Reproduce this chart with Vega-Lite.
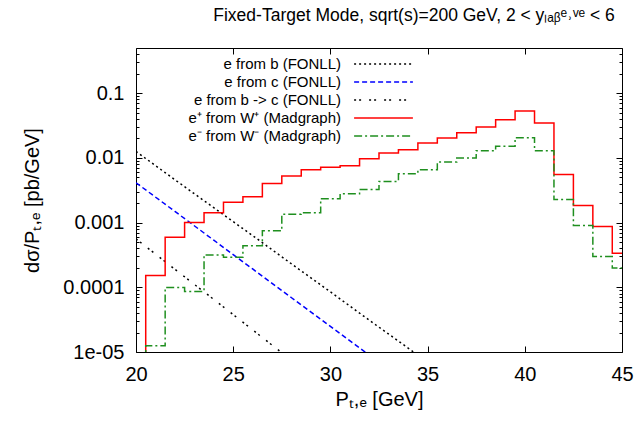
{
  "$schema": "https://vega.github.io/schema/vega-lite/v6.json",
  "width": 486,
  "height": 304,
  "padding": {"left": 22, "top": 7, "right": 5, "bottom": 5},
  "title": {"text": "Fixed-Target Mode, sqrt(s)=200 GeV, 2 < yₗₐᵦᵉ˒ᵛᵉ < 6", "font": "Liberation Sans", "fontSize": 17.5, "fontWeight": "normal", "color": "#000", "anchor": "middle", "dx": 35, "offset": 23},
  "datasets": {
    "fonll": [
      {"s": "e from b (FONLL)", "x": 20, "y": 0.0126},
      {"s": "e from b (FONLL)", "x": 22, "y": 0.0046},
      {"s": "e from b (FONLL)", "x": 24, "y": 0.0017},
      {"s": "e from b (FONLL)", "x": 26, "y": 0.00063},
      {"s": "e from b (FONLL)", "x": 28, "y": 0.00023},
      {"s": "e from b (FONLL)", "x": 30, "y": 0.000085},
      {"s": "e from b (FONLL)", "x": 32, "y": 0.000031},
      {"s": "e from b (FONLL)", "x": 34, "y": 0.0000115},
      {"s": "e from b (FONLL)", "x": 36, "y": 0.0000042},
      {"s": "e from c (FONLL)", "x": 20, "y": 0.00413},
      {"s": "e from c (FONLL)", "x": 22, "y": 0.00149},
      {"s": "e from c (FONLL)", "x": 24, "y": 0.000535},
      {"s": "e from c (FONLL)", "x": 26, "y": 0.000192},
      {"s": "e from c (FONLL)", "x": 28, "y": 0.000069},
      {"s": "e from c (FONLL)", "x": 30, "y": 0.0000249},
      {"s": "e from c (FONLL)", "x": 32, "y": 0.00000895},
      {"s": "e from b -> c (FONLL)", "x": 20, "y": 0.00056},
      {"s": "e from b -> c (FONLL)", "x": 22, "y": 0.00019},
      {"s": "e from b -> c (FONLL)", "x": 24, "y": 0.000065},
      {"s": "e from b -> c (FONLL)", "x": 26, "y": 0.000022},
      {"s": "e from b -> c (FONLL)", "x": 28, "y": 0.0000074}
    ],
    "hist": [
      {"s": "e⁺ from W⁺ (Madgraph)", "x": 20, "y": 0.0000001},
      {"s": "e⁺ from W⁺ (Madgraph)", "x": 21, "y": 0.000152},
      {"s": "e⁺ from W⁺ (Madgraph)", "x": 22, "y": 0.000596},
      {"s": "e⁺ from W⁺ (Madgraph)", "x": 23, "y": 0.001},
      {"s": "e⁺ from W⁺ (Madgraph)", "x": 24, "y": 0.00142},
      {"s": "e⁺ from W⁺ (Madgraph)", "x": 25, "y": 0.00207},
      {"s": "e⁺ from W⁺ (Madgraph)", "x": 26, "y": 0.0025},
      {"s": "e⁺ from W⁺ (Madgraph)", "x": 27, "y": 0.00403},
      {"s": "e⁺ from W⁺ (Madgraph)", "x": 28, "y": 0.00525},
      {"s": "e⁺ from W⁺ (Madgraph)", "x": 29, "y": 0.00657},
      {"s": "e⁺ from W⁺ (Madgraph)", "x": 30, "y": 0.0072},
      {"s": "e⁺ from W⁺ (Madgraph)", "x": 31, "y": 0.00757},
      {"s": "e⁺ from W⁺ (Madgraph)", "x": 32, "y": 0.0097},
      {"s": "e⁺ from W⁺ (Madgraph)", "x": 33, "y": 0.0119},
      {"s": "e⁺ from W⁺ (Madgraph)", "x": 34, "y": 0.0134},
      {"s": "e⁺ from W⁺ (Madgraph)", "x": 35, "y": 0.017},
      {"s": "e⁺ from W⁺ (Madgraph)", "x": 36, "y": 0.0203},
      {"s": "e⁺ from W⁺ (Madgraph)", "x": 37, "y": 0.0245},
      {"s": "e⁺ from W⁺ (Madgraph)", "x": 38, "y": 0.03},
      {"s": "e⁺ from W⁺ (Madgraph)", "x": 39, "y": 0.039},
      {"s": "e⁺ from W⁺ (Madgraph)", "x": 40, "y": 0.053},
      {"s": "e⁺ from W⁺ (Madgraph)", "x": 41, "y": 0.0347},
      {"s": "e⁺ from W⁺ (Madgraph)", "x": 42, "y": 0.00556},
      {"s": "e⁺ from W⁺ (Madgraph)", "x": 43, "y": 0.00184},
      {"s": "e⁺ from W⁺ (Madgraph)", "x": 44, "y": 0.00087},
      {"s": "e⁺ from W⁺ (Madgraph)", "x": 45, "y": 0.000337},
      {"s": "e⁻ from W⁻ (Madgraph)", "x": 20, "y": 0.0000001},
      {"s": "e⁻ from W⁻ (Madgraph)", "x": 21, "y": 0.0000125},
      {"s": "e⁻ from W⁻ (Madgraph)", "x": 22, "y": 0.000099},
      {"s": "e⁻ from W⁻ (Madgraph)", "x": 23, "y": 0.000086},
      {"s": "e⁻ from W⁻ (Madgraph)", "x": 24, "y": 0.000317},
      {"s": "e⁻ from W⁻ (Madgraph)", "x": 25, "y": 0.000292},
      {"s": "e⁻ from W⁻ (Madgraph)", "x": 26, "y": 0.000437},
      {"s": "e⁻ from W⁻ (Madgraph)", "x": 27, "y": 0.000746},
      {"s": "e⁻ from W⁻ (Madgraph)", "x": 28, "y": 0.00135},
      {"s": "e⁻ from W⁻ (Madgraph)", "x": 29, "y": 0.00142},
      {"s": "e⁻ from W⁻ (Madgraph)", "x": 30, "y": 0.00234},
      {"s": "e⁻ from W⁻ (Madgraph)", "x": 31, "y": 0.00279},
      {"s": "e⁻ from W⁻ (Madgraph)", "x": 32, "y": 0.00325},
      {"s": "e⁻ from W⁻ (Madgraph)", "x": 33, "y": 0.00433},
      {"s": "e⁻ from W⁻ (Madgraph)", "x": 34, "y": 0.00569},
      {"s": "e⁻ from W⁻ (Madgraph)", "x": 35, "y": 0.00656},
      {"s": "e⁻ from W⁻ (Madgraph)", "x": 36, "y": 0.00865},
      {"s": "e⁻ from W⁻ (Madgraph)", "x": 37, "y": 0.01},
      {"s": "e⁻ from W⁻ (Madgraph)", "x": 38, "y": 0.0129},
      {"s": "e⁻ from W⁻ (Madgraph)", "x": 39, "y": 0.0151},
      {"s": "e⁻ from W⁻ (Madgraph)", "x": 40, "y": 0.0205},
      {"s": "e⁻ from W⁻ (Madgraph)", "x": 41, "y": 0.0129},
      {"s": "e⁻ from W⁻ (Madgraph)", "x": 42, "y": 0.00228},
      {"s": "e⁻ from W⁻ (Madgraph)", "x": 43, "y": 0.0009},
      {"s": "e⁻ from W⁻ (Madgraph)", "x": 44, "y": 0.000299},
      {"s": "e⁻ from W⁻ (Madgraph)", "x": 45, "y": 0.000198}
    ]
  },
  "layer": [
    {
      "data": {"name": "fonll"},
      "mark": {"type": "line", "clip": true},
      "encoding": {
        "x": {"field": "x", "type": "quantitative", "scale": {"domain": [20, 45], "nice": false, "zero": false},
              "axis": {"orient": "top", "labels": false, "title": null, "values": [20, 25, 30, 35, 40, 45], "tickSize": -6}},
        "y": {"field": "y", "type": "quantitative", "scale": {"type": "log", "domain": [0.00001, 0.5], "nice": false},
              "axis": {"orient": "right", "labels": false, "title": null, "values": [0.00001, 0.0001, 0.001, 0.01, 0.1], "tickSize": -6}},
        "color": {"field": "s", "type": "nominal", "legend": {"title": null},
                  "scale": {"domain": ["e from b (FONLL)", "e from c (FONLL)", "e from b -> c (FONLL)", "e⁺ from W⁺ (Madgraph)", "e⁻ from W⁻ (Madgraph)"],
                            "range": ["#000000", "#0000ff", "#000000", "#ff0000", "#1f8f1f"]}},
        "strokeDash": {"field": "s", "type": "nominal", "legend": {"title": null},
                  "scale": {"domain": ["e from b (FONLL)", "e from c (FONLL)", "e from b -> c (FONLL)", "e⁺ from W⁺ (Madgraph)", "e⁻ from W⁻ (Madgraph)"],
                            "range": [[2, 3], [5, 3], [2, 3, 2, 8], [1, 0], [8, 3, 2, 3]]}},
        "strokeWidth": {"field": "s", "type": "nominal", "legend": {"title": null},
                  "scale": {"domain": ["e from b (FONLL)", "e from c (FONLL)", "e from b -> c (FONLL)", "e⁺ from W⁺ (Madgraph)", "e⁻ from W⁻ (Madgraph)"],
                            "range": [1.5, 1.5, 1.2, 2, 1.5]}}
      }
    },
    {
      "data": {"name": "hist"},
      "mark": {"type": "line", "clip": true, "interpolate": "step"},
      "encoding": {
        "x": {"field": "x", "type": "quantitative", "title": "Pₜ,ₑ [GeV]",
              "axis": {"orient": "bottom", "values": [20, 25, 30, 35, 40, 45], "tickSize": -6, "labelPadding": 18, "titlePadding": 5}},
        "y": {"field": "y", "type": "quantitative", "title": "dσ/Pₜ,ₑ [pb/GeV]",
              "axis": {"orient": "left", "values": [0.00001, 0.0001, 0.001, 0.01, 0.1], "tickSize": -6, "labelPadding": 18, "titlePadding": 20,
                       "labelExpr": "datum.value < 0.00005 ? '1e-05' : format(datum.value, '~g')"}},
        "color": {"field": "s", "type": "nominal", "legend": {"title": null}},
        "strokeDash": {"field": "s", "type": "nominal", "legend": {"title": null}},
        "strokeWidth": {"field": "s", "type": "nominal", "legend": {"title": null}}
      }
    },
    {
      "data": {"name": "fonll"},
      "mark": {"type": "line", "opacity": 0},
      "encoding": {
        "x": {"field": "x", "type": "quantitative", "axis": null},
        "y": {"field": "y", "type": "quantitative",
              "axis": {"orient": "left", "labels": false, "title": null, "tickSize": -3,
                       "values": [0.00002, 0.00003, 0.00004, 0.00005, 0.00006, 0.00007, 0.00008, 0.00009, 0.0002, 0.0003, 0.0004, 0.0005, 0.0006, 0.0007, 0.0008, 0.0009, 0.002, 0.003, 0.004, 0.005, 0.006, 0.007, 0.008, 0.009, 0.02, 0.03, 0.04, 0.05, 0.06, 0.07, 0.08, 0.09, 0.2, 0.3, 0.4]}}
      }
    },
    {
      "data": {"name": "fonll"},
      "mark": {"type": "line", "opacity": 0},
      "encoding": {
        "x": {"field": "x", "type": "quantitative", "axis": null},
        "y": {"field": "y", "type": "quantitative",
              "axis": {"orient": "right", "labels": false, "title": null, "tickSize": -3,
                       "values": [0.00002, 0.00003, 0.00004, 0.00005, 0.00006, 0.00007, 0.00008, 0.00009, 0.0002, 0.0003, 0.0004, 0.0005, 0.0006, 0.0007, 0.0008, 0.0009, 0.002, 0.003, 0.004, 0.005, 0.006, 0.007, 0.008, 0.009, 0.02, 0.03, 0.04, 0.05, 0.06, 0.07, 0.08, 0.09, 0.2, 0.3, 0.4]}}
      }
    }
  ],
  "resolve": {"axis": {"x": "independent", "y": "independent"}},
  "config": {
    "background": "#ffffff",
    "view": {"stroke": "#000000", "strokeWidth": 1},
    "axis": {"labelFont": "Liberation Sans", "titleFont": "Liberation Sans", "labelFontSize": 20, "titleFontSize": 20,
             "titleFontWeight": "normal", "labelColor": "#000", "titleColor": "#000", "tickColor": "#000", "tickWidth": 1,
             "grid": false, "domain": false, "labelFlush": false, "labelOverlap": false, "labelBound": false},
    "legend": {"orient": "none", "legendX": 239.5, "legendY": 8, "labelFont": "Liberation Sans", "labelFontSize": 15,
               "labelColor": "#000", "labelAlign": "right", "labelOffset": -50.5, "symbolType": "M-4.2,0H4.2", "symbolSize": 196,
               "rowPadding": 2, "padding": 0, "labelLimit": 400}
  }
}
